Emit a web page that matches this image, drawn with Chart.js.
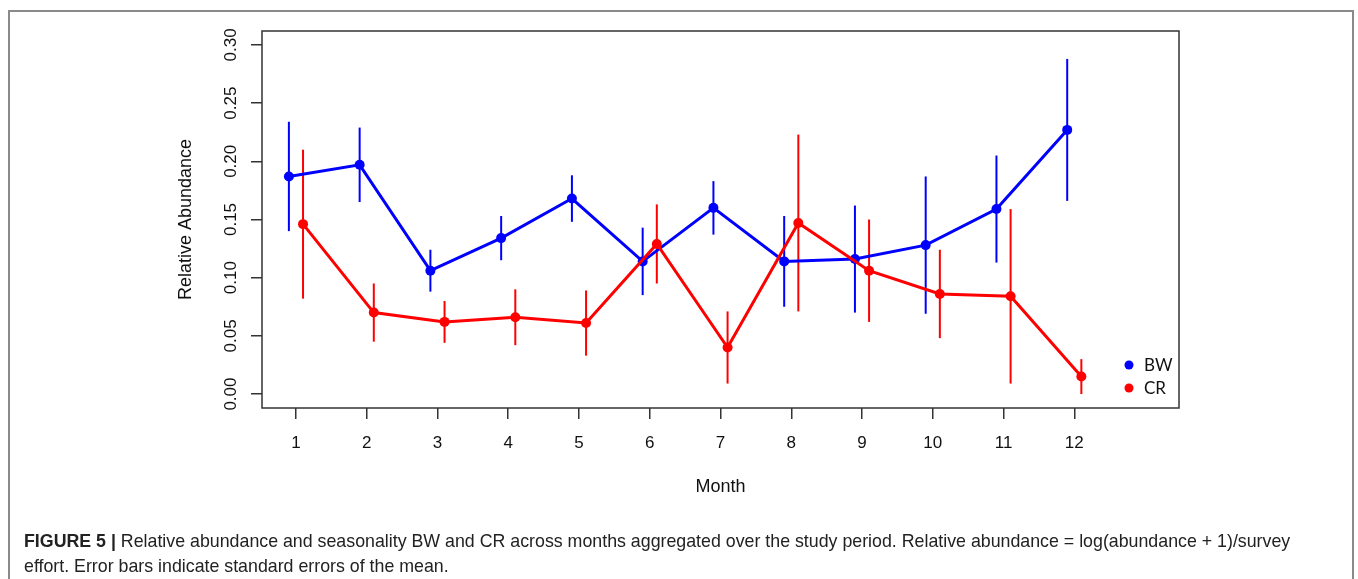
<!DOCTYPE html>
<html>
<head>
<meta charset="utf-8">
<script src="https://cdn.jsdelivr.net/npm/chart.js@4.4.1/dist/chart.umd.min.js"></script>
<style>
    html, body { margin: 0; padding: 0; background: #fff; }
    body { width: 1358px; height: 579px; position: relative; overflow: hidden; }
    #frame {
        position: absolute; left: 8px; top: 10px; width: 1346px; height: 600px;
        border-left: 2px solid #8a8a8a; border-top: 2px solid #8a8a8a; border-right: 2px solid #8a8a8a;
        box-sizing: border-box;
    }
    #chart { position: absolute; left: 0; top: 0; }
    #caption {
        position: absolute; left: 24px; top: 529px; width: 1320px; white-space: nowrap;
        font-family: "Liberation Sans", Arial, sans-serif; font-size: 17.8px; line-height: 25px; color: #222;
    }
    #caption b { font-weight: bold; }
</style>
</head>
<body>
<div id="frame"></div>
<canvas id="chart" width="1358" height="579"></canvas>
<div id="caption"><b>FIGURE 5 |</b> Relative abundance and seasonality BW and CR across months aggregated over the study period. Relative abundance = log(abundance + 1)/survey<br>effort. Error bars indicate standard errors of the mean.</div>
<script>
const months = [1, 2, 3, 4, 5, 6, 7, 8, 9, 10, 11, 12];
const yTicks = [0, 0.05, 0.10, 0.15, 0.20, 0.25, 0.30];

const bwMean = [0.187, 0.197, 0.106, 0.134, 0.168, 0.114, 0.160, 0.114, 0.116, 0.128, 0.159, 0.227];
const bwSe   = [0.047, 0.032, 0.018, 0.019, 0.020, 0.029, 0.023, 0.039, 0.046, 0.059, 0.046, 0.061];
const crMean = [0.146, 0.070, 0.062, 0.066, 0.061, 0.129, 0.040, 0.147, 0.106, 0.086, 0.084, 0.015];
const crSe   = [0.064, 0.025, 0.018, 0.024, 0.028, 0.034, 0.031, 0.076, 0.044, 0.038, 0.075, 0.015];

const BLUE = '#0000ff';
const RED = '#ff0000';
const AXIS = '#333333';
const FONT = '"Liberation Sans", Arial, sans-serif';

// points are shifted a little left (BW) and right (CR) of each month
const bwPoints = months.map((m, i) => ({ x: m - 0.1, y: bwMean[i], se: bwSe[i] }));
const crPoints = months.map((m, i) => ({ x: m + 0.1, y: crMean[i], se: crSe[i] }));

const errorBars = {
    id: 'errorBars',
    beforeDatasetsDraw(chart) {
        const ctx = chart.ctx;
        const xs = chart.scales.x;
        const ys = chart.scales.y;
        ctx.save();
        chart.data.datasets.forEach(ds => {
            ctx.strokeStyle = ds.borderColor;
            ctx.lineWidth = 2;
            ds.data.forEach(p => {
                const px = xs.getPixelForValue(p.x);
                ctx.beginPath();
                ctx.moveTo(px, ys.getPixelForValue(p.y + p.se));
                ctx.lineTo(px, ys.getPixelForValue(p.y - p.se));
                ctx.stroke();
            });
        });
        ctx.restore();
    }
};

const decorations = {
    id: 'decorations',
    afterDraw(chart) {
        const ctx = chart.ctx;
        const area = chart.chartArea;
        const xs = chart.scales.x;
        const ys = chart.scales.y;
        ctx.save();

        // box round the plot
        ctx.strokeStyle = AXIS;
        ctx.lineWidth = 1.5;
        ctx.strokeRect(area.left, area.top, area.right - area.left, area.bottom - area.top);

        ctx.fillStyle = '#111';
        ctx.font = '17px ' + FONT;
        ctx.textAlign = 'center';
        ctx.textBaseline = 'middle';

        // x tick labels
        months.forEach(m => {
            ctx.fillText(String(m), xs.getPixelForValue(m), 443);
        });

        // y tick labels, rotated like R does
        yTicks.forEach(v => {
            ctx.save();
            ctx.translate(231, ys.getPixelForValue(v));
            ctx.rotate(-Math.PI / 2);
            ctx.fillText(v.toFixed(2), 0, 0);
            ctx.restore();
        });

        // axis titles
        ctx.font = '18px ' + FONT;
        ctx.fillText('Month', (area.left + area.right) / 2, 487);
        ctx.save();
        ctx.translate(186, (area.top + area.bottom) / 2);
        ctx.rotate(-Math.PI / 2);
        ctx.fillText('Relative Abundance', 0, 0);
        ctx.restore();

        // legend
        const legend = [['BW', BLUE, 365], ['CR', RED, 388]];
        ctx.font = '17px Lato, "Open Sans", sans-serif';
        ctx.textAlign = 'left';
        legend.forEach(([label, color, y]) => {
            ctx.fillStyle = color;
            ctx.beginPath();
            ctx.arc(1129, y, 4.5, 0, Math.PI * 2);
            ctx.fill();
            ctx.fillStyle = '#111';
            ctx.fillText(label, 1144, y + 1);
        });

        ctx.restore();
    }
};

new Chart(document.getElementById('chart'), {
    type: 'line',
    data: {
        datasets: [
            {
                label: 'CR',
                data: crPoints,
                borderColor: RED,
                backgroundColor: RED,
                borderWidth: 3,
                pointRadius: 5,
                pointBorderWidth: 0,
                tension: 0
            },
            {
                label: 'BW',
                data: bwPoints,
                borderColor: BLUE,
                backgroundColor: BLUE,
                borderWidth: 3,
                pointRadius: 5,
                pointBorderWidth: 0,
                tension: 0
            }
        ]
    },
    options: {
        responsive: false,
        animation: false,
        devicePixelRatio: 1,
        layout: {
            padding: { left: 0, right: 179, top: 31, bottom: 0 }
        },
        plugins: {
            legend: { display: false },
            tooltip: { enabled: false }
        },
        scales: {
            x: {
                type: 'linear',
                min: 0.52,
                max: 13.48,
                afterBuildTicks: scale => { scale.ticks = months.map(v => ({ value: v })); },
                afterFit: scale => { scale.height = 171; },
                border: { display: false },
                grid: { drawOnChartArea: false, drawTicks: true, tickLength: 11, color: AXIS, lineWidth: 1.5 },
                ticks: { display: false }
            },
            y: {
                type: 'linear',
                min: -0.012,
                max: 0.312,
                afterBuildTicks: scale => { scale.ticks = yTicks.map(v => ({ value: v })); },
                afterFit: scale => { scale.width = 262; },
                border: { display: false },
                grid: { drawOnChartArea: false, drawTicks: true, tickLength: 11, color: AXIS, lineWidth: 1.5 },
                ticks: { display: false }
            }
        }
    },
    plugins: [errorBars, decorations]
});
</script>
</body>
</html>
